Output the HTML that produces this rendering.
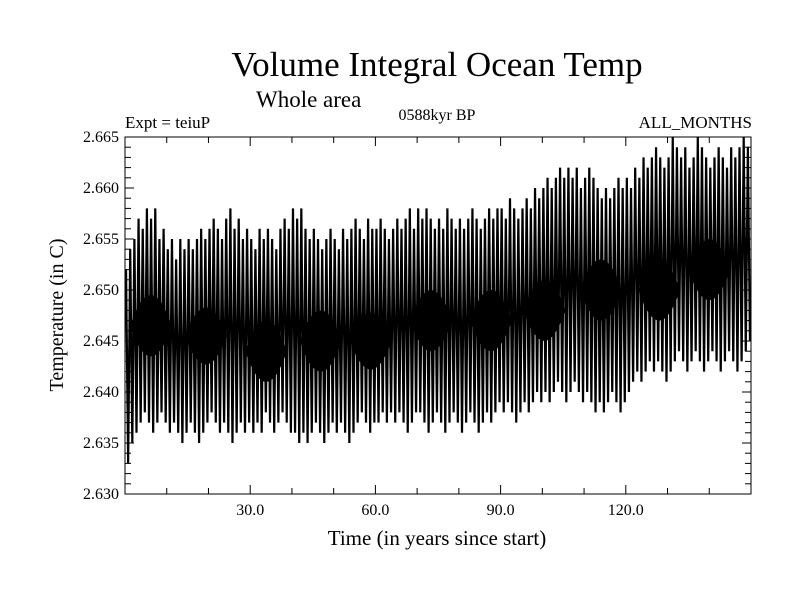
<!DOCTYPE html>
<html><head><meta charset="utf-8"><style>
body{margin:0;background:#fff;}
svg{display:block;font-family:"Liberation Serif",serif;}
</style></head><body>
<svg id="chart" width="800" height="600">
<defs><clipPath id="pc"><rect x="125" y="137" width="626" height="357"/></clipPath></defs>
<rect width="800" height="600" fill="#fff"/>
<text x="437" y="76" font-size="35" text-anchor="middle">Volume Integral Ocean Temp</text>
<text x="256" y="107" font-size="23">Whole area</text>
<text x="125" y="128" font-size="17">Expt = teiuP</text>
<text x="437" y="120" font-size="16" text-anchor="middle">0588kyr BP</text>
<text x="752" y="128" font-size="17" text-anchor="end">ALL_MONTHS</text>
<text x="437" y="545" font-size="21" text-anchor="middle">Time (in years since start)</text>
<text transform="translate(63,315) rotate(-90)" font-size="20" text-anchor="middle">Temperature (in C)</text>
<g id="marks" clip-path="url(#pc)"></g>
<g id="axes"></g>
</svg>
<script>
const peaks=[2.652,2.654,2.655,2.657,2.656,2.658,2.657,2.658,2.655,2.656,
2.654,2.655,2.653,2.655,2.654,2.655,2.654,2.655,2.656,2.655,
2.656,2.657,2.656,2.655,2.657,2.658,2.656,2.657,2.655,2.656,
2.655,2.654,2.656,2.655,2.656,2.655,2.654,2.656,2.657,2.656,
2.658,2.657,2.658,2.656,2.655,2.656,2.655,2.654,2.655,2.656,
2.655,2.654,2.656,2.655,2.656,2.657,2.656,2.655,2.657,2.656,
2.656,2.657,2.656,2.655,2.656,2.657,2.656,2.657,2.658,2.656,
2.658,2.657,2.658,2.657,2.656,2.657,2.656,2.658,2.657,2.656,
2.657,2.656,2.657,2.658,2.657,2.656,2.657,2.658,2.657,2.658,
2.658,2.657,2.659,2.658,2.657,2.658,2.659,2.658,2.660,2.659,
2.660,2.661,2.660,2.661,2.662,2.661,2.662,2.661,2.662,2.660,
2.661,2.662,2.661,2.660,2.659,2.660,2.659,2.660,2.661,2.660,
2.661,2.660,2.662,2.661,2.663,2.662,2.663,2.664,2.663,2.662,
2.663,2.665,2.664,2.663,2.664,2.662,2.663,2.665,2.664,2.663,
2.662,2.663,2.664,2.663,2.662,2.664,2.663,2.664,2.665,2.664];
const troughs=[2.633,2.635,2.636,2.637,2.638,2.637,2.636,2.637,2.638,2.637,
2.636,2.637,2.636,2.635,2.636,2.637,2.636,2.635,2.636,2.637,
2.638,2.637,2.636,2.637,2.636,2.635,2.636,2.637,2.636,2.637,
2.636,2.637,2.636,2.638,2.637,2.636,2.637,2.638,2.637,2.636,
2.636,2.635,2.636,2.635,2.636,2.637,2.636,2.635,2.636,2.637,
2.636,2.637,2.636,2.635,2.636,2.637,2.638,2.637,2.636,2.637,
2.637,2.638,2.637,2.638,2.637,2.638,2.637,2.636,2.637,2.638,
2.638,2.637,2.636,2.637,2.638,2.637,2.636,2.637,2.638,2.637,
2.636,2.637,2.638,2.637,2.636,2.637,2.638,2.637,2.638,2.639,
2.638,2.639,2.638,2.637,2.638,2.639,2.638,2.639,2.640,2.639,
2.640,2.639,2.640,2.641,2.640,2.639,2.640,2.641,2.640,2.639,
2.640,2.639,2.638,2.639,2.638,2.639,2.640,2.639,2.638,2.639,
2.640,2.641,2.642,2.641,2.642,2.643,2.642,2.643,2.642,2.641,
2.642,2.643,2.644,2.643,2.642,2.643,2.644,2.643,2.642,2.643,
2.644,2.643,2.642,2.643,2.644,2.643,2.642,2.643,2.644,2.645];
const blobYears=[6.2,19.4,33.8,46.9,58.9,73.3,87.7,100.5,114,128,140];
const blobCenters=[2.6465,2.6455,2.644,2.645,2.645,2.647,2.647,2.648,2.650,2.650,2.652];
const blobHalf=[0.003,0.0028,0.003,0.003,0.0028,0.003,0.003,0.003,0.003,0.003,0.003];
const yTicks=[2.630,2.635,2.640,2.645,2.650,2.655,2.660,2.665];
const yLabels=["2.630","2.635","2.640","2.645","2.650","2.655","2.660","2.665"];
const xTicks=[30,60,90,120];
const xLabels=["30.0","60.0","90.0","120.0"];

const L=125,R=751,T=137,B=494,X0=0,X1=150,Y0=2.630,Y1=2.665;
const sx=v=>L+(v-X0)/(X1-X0)*(R-L);
const sy=v=>B-(v-Y0)/(Y1-Y0)*(B-T);
const NS='http://www.w3.org/2000/svg';
const marks=document.getElementById('marks');
const axes=document.getElementById('axes');
function mk(tag,attrs,parent){const e=document.createElementNS(NS,tag);for(const k in attrs)e.setAttribute(k,attrs[k]);parent.appendChild(e);return e;}

blobYears.forEach((yr,i)=>{
  const cx=sx(yr),cy=sy(blobCenters[i]),h=sy(blobCenters[i]-blobHalf[i])-cy,w=sx(5)-sx(0);
  const p=mk('path',{d:`M${cx-w},${cy} Q${cx-w/2},${cy-h} ${cx},${cy-h} Q${cx+w/2},${cy-h} ${cx+w},${cy} Q${cx+w/2},${cy+h} ${cx},${cy+h} Q${cx-w/2},${cy+h} ${cx-w},${cy} Z`,fill:'#000'},marks);
  
  
});
let d='';
peaks.forEach((pk,i)=>{
  d+=(i===0?'M':'L')+sx(i+0.25).toFixed(2)+','+sy(pk).toFixed(2)+' L'+sx(i+0.75).toFixed(2)+','+sy(troughs[i]).toFixed(2)+' ';
});
const line=mk('path',{d:d,fill:'none',stroke:'#000','stroke-width':2.2,'stroke-linejoin':'miter'},marks);



const fr=mk('rect',{x:L,y:T,width:R-L,height:B-T,fill:'none',stroke:'#000','stroke-width':1},axes);


for(let k=0;k<=35;k++){
  const v=Y0+k*0.001,y=sy(v),len=(k%5===0)?9:6;
  mk('line',{x1:L,x2:L+len,y1:y,y2:y,stroke:'#000'},axes);
  mk('line',{x1:R,x2:R-len,y1:y,y2:y,stroke:'#000'},axes);
}
yTicks.forEach((v,i)=>{
  const t=mk('text',{x:L-6,y:sy(v)+5,'font-size':16,'text-anchor':'end'},axes);
  t.textContent=yLabels[i];
  
  
});
for(let yr=10;yr<150;yr+=10){
  const x=sx(yr),len=(yr%30===0)?9:6;
  mk('line',{x1:x,x2:x,y1:T,y2:T+len,stroke:'#000'},axes);
  mk('line',{x1:x,x2:x,y1:B,y2:B-len,stroke:'#000'},axes);
}
xTicks.forEach((v,i)=>{
  const t=mk('text',{x:sx(v),y:B+21,'font-size':16,'text-anchor':'middle'},axes);
  t.textContent=xLabels[i];
  
  
});
</script>
</body></html>
